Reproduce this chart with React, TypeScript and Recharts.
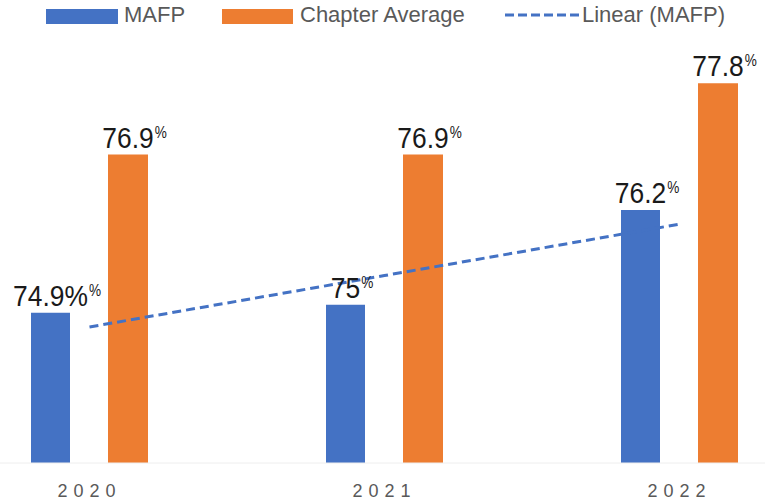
/* MAFP vs Chapter Average — yearly bars with linear trend */
import { ComposedChart, Bar, Line, XAxis, YAxis, LabelList } from 'recharts';

const years = ['2020', '2021', '2022'];
const mafp = [74.9, 75.0, 76.2];
const chapterAverage = [76.9, 76.9, 77.8];
const mafpTrend = [74.72, 75.37, 76.02];
const mafpLabels = ['74.9%', '75', '76.2'];
const chapterLabels = ['76.9', '76.9', '77.8'];

const BLUE = '#4472C4';
const ORANGE = '#ED7D31';
const GREY = '#595959';
const SANS = "'Liberation Sans', Arial, sans-serif";

const data = years.map((year, i) => ({
  year,
  mafp: mafp[i],
  chapter: chapterAverage[i],
  trend: mafpTrend[i],
  mafpLabel: mafpLabels[i],
  chapterLabel: chapterLabels[i],
}));

// labels use a condensed look: regular sans squeezed horizontally
const BIG = 30;
const SQUEEZE = 0.88;
const textWidth = (s: string) =>
  s.split('').reduce((w, c) => w + (c === '.' ? 0.278 : c === '%' ? 0.889 : 0.556) * BIG * SQUEEZE, 0);

const ValueLabel = (props: any) => {
  const { x, y, width, value } = props;
  const cx = Number(x) + Number(width) / 2;
  const base = Number(y) - 7;
  const s = String(value);
  const px = cx + textWidth(s) / 2 + 1;
  return (
    <g>
      <text transform={`translate(${cx},${base}) scale(${SQUEEZE},1)`} textAnchor="middle"
        fontFamily={SANS} fontSize={BIG} fill="#1a1a1a">
        {s}
      </text>
      <text transform={`translate(${px},${base - 10}) scale(0.85,1)`}
        fontFamily={SANS} fontSize={16} fill="#1a1a1a">
        %
      </text>
    </g>
  );
};

const YearTick = (props: any) => {
  const { x, y, payload } = props;
  return (
    <text x={x} y={y + 26} textAnchor="middle" fontFamily={SANS} fontSize={18}
      letterSpacing={6} fill={GREY}>
      {payload.value}
    </text>
  );
};

const legendText = { fontFamily: SANS, fontSize: 22, color: GREY, position: 'absolute' as const, top: 3, lineHeight: '24px' };

export default function App() {
  return (
    <div style={{ position: 'fixed', left: 0, top: 0, width: 765, height: 502, overflow: 'hidden', background: '#fff' }}>
      <div style={{ position: 'absolute', left: -58, top: 0 }}>
        <ComposedChart width={885} height={502} data={data} barGap={38}
          margin={{ top: 28, right: 0, bottom: 0, left: 0 }}>
          <XAxis dataKey="year" height={39} axisLine={{ stroke: '#eeeeee' }} tickLine={false}
            tick={<YearTick />} interval={0} />
          <YAxis hide domain={[73, 78.5]} allowDataOverflow />
          <Bar dataKey="mafp" fill={BLUE} barSize={39} isAnimationActive={false}>
            <LabelList dataKey="mafpLabel" content={<ValueLabel />} />
          </Bar>
          <Bar dataKey="chapter" fill={ORANGE} barSize={40} isAnimationActive={false}>
            <LabelList dataKey="chapterLabel" content={<ValueLabel />} />
          </Bar>
          <Line type="linear" dataKey="trend" stroke={BLUE} strokeWidth={3} strokeDasharray="9 5"
            dot={false} activeDot={false} isAnimationActive={false} />
        </ComposedChart>
      </div>

      {/* legend */}
      <div style={{ position: 'absolute', left: 46, top: 9, width: 72, height: 15, background: BLUE }} />
      <div style={{ ...legendText, left: 124 }}>MAFP</div>
      <div style={{ position: 'absolute', left: 222, top: 9, width: 71, height: 15, background: ORANGE }} />
      <div style={{ ...legendText, left: 300 }}>Chapter Average</div>
      <svg style={{ position: 'absolute', left: 505, top: 12 }} width={74} height={6}>
        <line x1={0} y1={3} x2={74} y2={3} stroke={BLUE} strokeWidth={3} strokeDasharray="9 4" />
      </svg>
      <div style={{ ...legendText, left: 582 }}>Linear (MAFP)</div>
    </div>
  );
}
